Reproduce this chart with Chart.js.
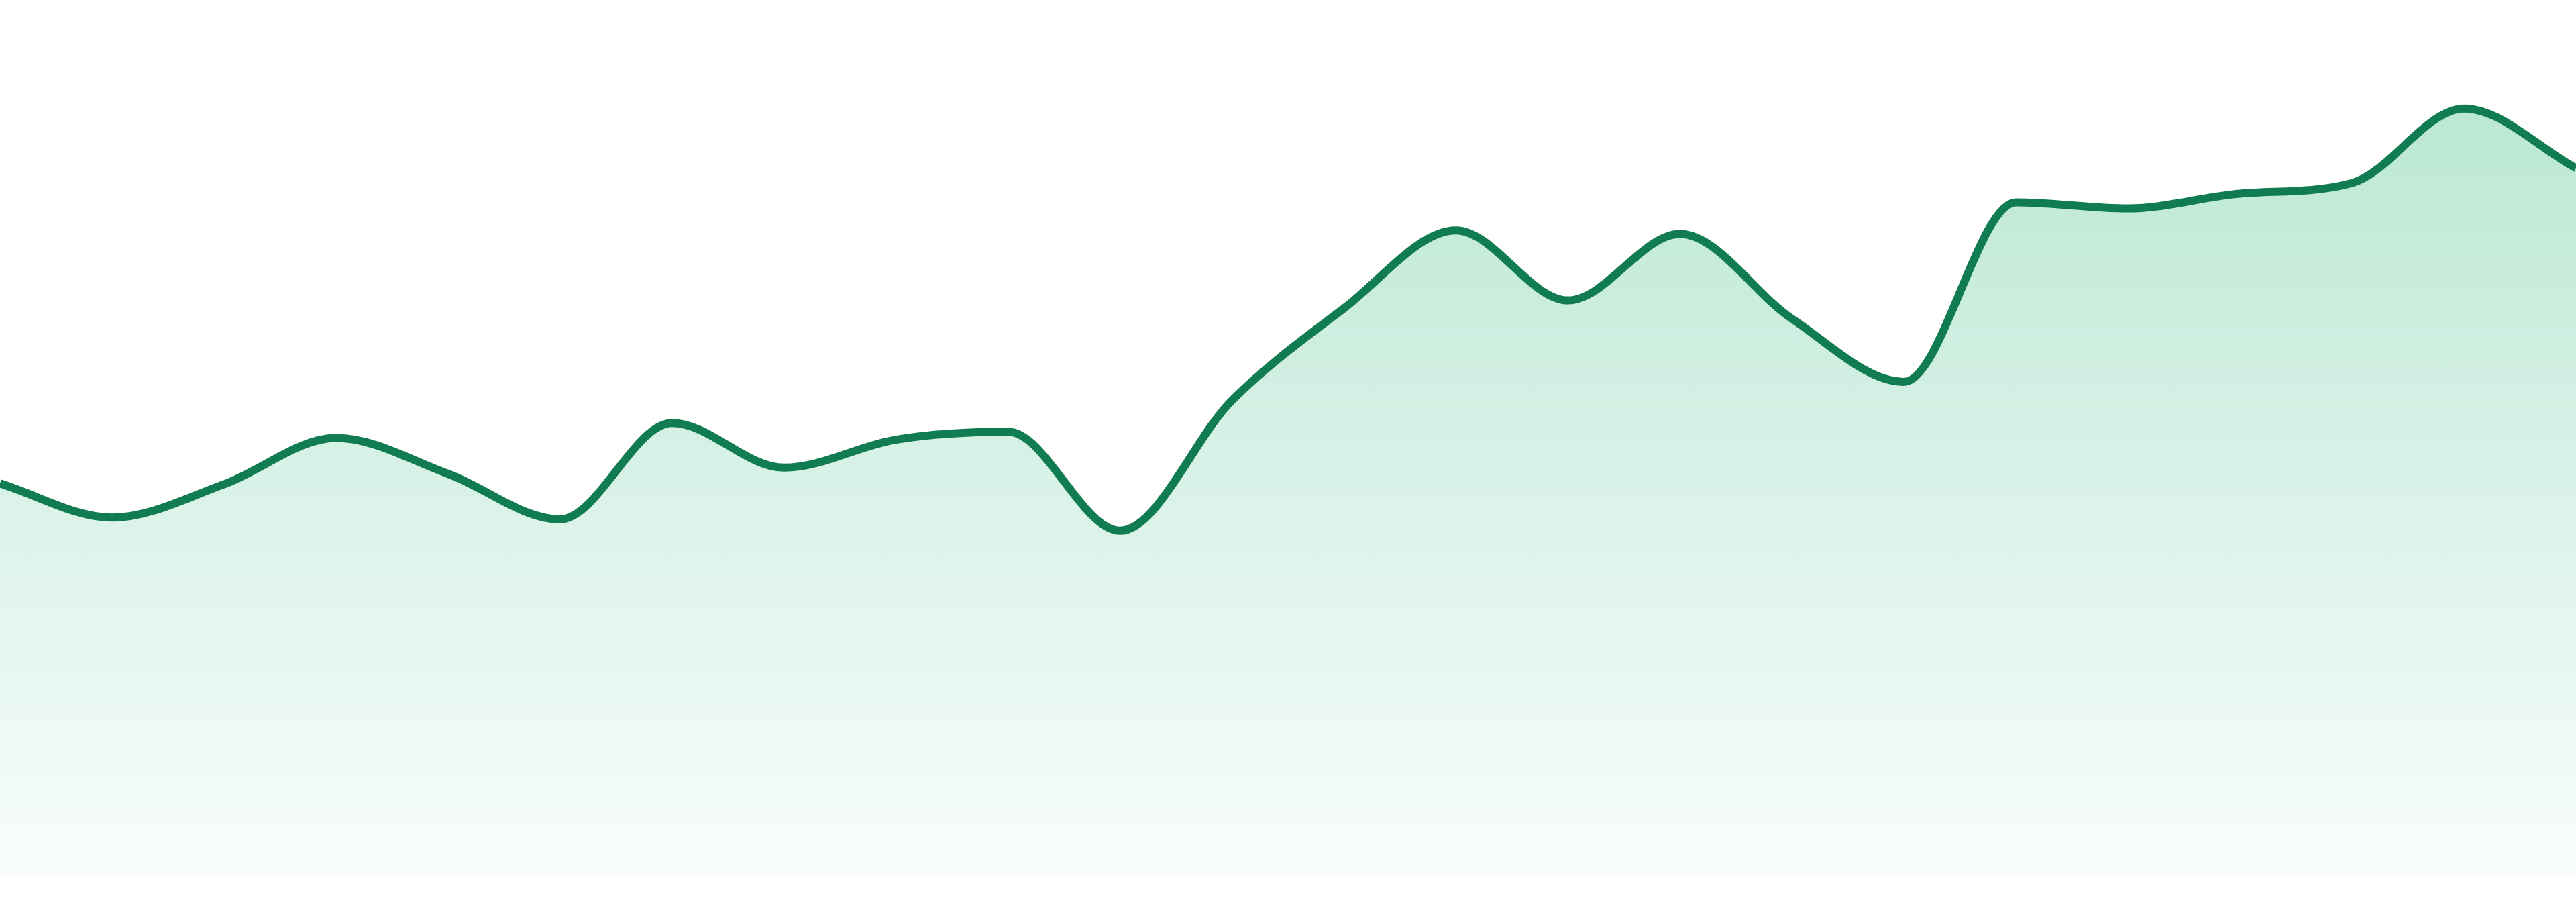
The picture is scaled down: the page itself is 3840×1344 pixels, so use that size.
<!DOCTYPE html>
<html>
<head>
<meta charset="utf-8">
<title>Trend</title>
<script src="https://cdn.jsdelivr.net/npm/chart.js@4.4.1/dist/chart.umd.min.js"></script>
<style>
  html, body { margin: 0; padding: 0; background: #ffffff; }
  #wrap { width: 3840px; height: 1344px; position: relative; }
</style>
</head>
<body>
<div id="wrap"><canvas id="trend-chart"></canvas></div>
<script>
// values, scale 0..100
const labels = ["1", "2", "3", "4", "5", "6", "7", "8", "9", "10", "11", "12",
                "13", "14", "15", "16", "17", "18", "19", "20", "21", "22", "23", "24"];
const values = [44.8, 40.9, 44.7, 50.0, 45.9, 40.7, 51.7, 46.6, 49.8, 50.7, 39.4, 54.3,
                64.8, 73.7, 65.7, 73.3, 63.6, 56.4, 76.9, 76.2, 77.9, 79.1, 87.6, 80.8];
const yMin = 0;
const yMax = 100;

const lineColor = "#117c52";

function fillGradient(context) {
  const chart = context.chart;
  const area = chart.chartArea;
  if (!area) return "rgba(42,182,122,0.2)";
  const g = chart.ctx.createLinearGradient(0, area.top, 0, area.bottom);
  g.addColorStop(0, "rgba(42,182,122,0.36)");
  g.addColorStop(1, "rgba(42,182,122,0.03)");
  return g;
}

document.addEventListener("DOMContentLoaded", () => {
  const ctx = document.getElementById("trend-chart").getContext("2d");
  new Chart(ctx, {
    type: "line",
    data: {
      labels: labels,
      datasets: [
        {
          data: values,
          borderColor: lineColor,
          borderWidth: 12,
          backgroundColor: fillGradient,
          fill: "start",
          cubicInterpolationMode: "monotone",
          pointRadius: 0,
          pointHoverRadius: 0
        }
      ]
    },
    options: {
      responsive: true,
      maintainAspectRatio: false,
      animation: false,
      layout: { padding: { top: 0, left: 0, right: 0, bottom: 39 } },
      plugins: {
        legend: { display: false },
        tooltip: { enabled: false }
      },
      scales: {
        x: { display: false },
        y: { display: false, min: yMin, max: yMax }
      }
    }
  });
});
</script>
</body>
</html>
